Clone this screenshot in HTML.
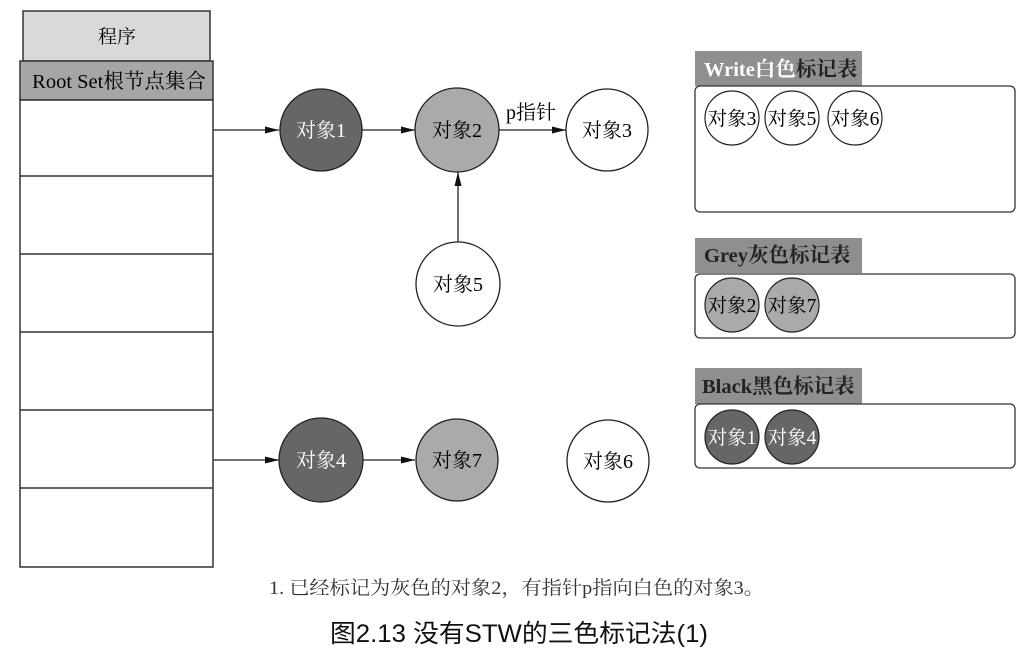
<!DOCTYPE html>
<html><head><meta charset="utf-8"><style>
html,body{margin:0;padding:0;background:#fff;width:1036px;height:657px;overflow:hidden}
svg text{font-family:"Liberation Serif","Noto Serif CJK SC",serif}
</style></head><body>
<svg width="1036" height="657" viewBox="0 0 1036 657" xmlns="http://www.w3.org/2000/svg">
<defs><marker id="a" markerWidth="14" markerHeight="8" refX="14" refY="4" orient="auto" markerUnits="userSpaceOnUse"><path d="M0,0.5 L14,4 L0,7.5 Z" fill="#111"/></marker></defs>
<g stroke="#333" stroke-width="1.5">
<rect x="23" y="11" width="187" height="50" fill="#d9d9d9"/>
<rect x="20" y="61" width="193" height="39" fill="#a6a6a6"/>
<rect x="20" y="100" width="193" height="467" fill="#fff"/>
<line x1="20" y1="176" x2="213" y2="176"/>
<line x1="20" y1="254" x2="213" y2="254"/>
<line x1="20" y1="332" x2="213" y2="332"/>
<line x1="20" y1="410" x2="213" y2="410"/>
<line x1="20" y1="488" x2="213" y2="488"/>
</g>
<text x="117" y="43" font-size="19" text-anchor="middle">程序</text>
<text x="119" y="88" font-size="20.5" text-anchor="middle">Root Set根节点集合</text>
<g stroke="#222" stroke-width="1.3" marker-end="url(#a)">
<line x1="213" y1="130" x2="279" y2="130"/>
<line x1="362" y1="130" x2="415" y2="130"/>
<line x1="499" y1="130" x2="566" y2="130"/>
<line x1="458" y1="243" x2="458" y2="172"/>
<line x1="213" y1="460" x2="279" y2="460"/>
<line x1="362" y1="460" x2="415" y2="460"/>
</g>
<g stroke="#222" stroke-width="1.3">
<circle cx="321" cy="130" r="41" fill="#666"/>
<circle cx="457" cy="130" r="42" fill="#aaa"/>
<circle cx="607" cy="130" r="41" fill="#fff"/>
<circle cx="458" cy="284" r="42" fill="#fff"/>
<circle cx="321" cy="460" r="42" fill="#666"/>
<circle cx="457" cy="460" r="41" fill="#aaa"/>
<circle cx="608" cy="461" r="41" fill="#fff"/>
</g>
<g font-size="20" text-anchor="middle">
<text x="321" y="137" fill="#fff">对象1</text>
<text x="457" y="137">对象2</text>
<text x="607" y="137">对象3</text>
<text x="458" y="291">对象5</text>
<text x="321" y="467" fill="#fff">对象4</text>
<text x="457" y="467">对象7</text>
<text x="608" y="468">对象6</text>
<text x="531" y="119">p指针</text>
</g>
<g fill="#8f8f8f"><rect x="695" y="51" width="167" height="35"/><rect x="695" y="238" width="167" height="35"/><rect x="695" y="368" width="167" height="36"/></g>
<g font-size="20.5" font-weight="bold"><text x="704" y="76" fill="#fff">Write白色<tspan fill="#222">标记表</tspan></text>
<text x="704" y="262" fill="#222">Grey灰色标记表</text>
<text x="702" y="393" fill="#222">Black黑色标记表</text></g>
<g stroke="#333" stroke-width="1.3" fill="#fff">
<rect x="695" y="86" width="320" height="126" rx="5"/>
<rect x="695" y="274" width="320" height="64" rx="5"/>
<rect x="695" y="404" width="320" height="64" rx="5"/>
</g>
<g stroke="#222" stroke-width="1.2">
<circle cx="732" cy="118" r="27" fill="#fff"/>
<circle cx="792" cy="118" r="27" fill="#fff"/>
<circle cx="855" cy="118" r="27" fill="#fff"/>
<circle cx="732" cy="305" r="27" fill="#aaa"/>
<circle cx="792" cy="305" r="27" fill="#aaa"/>
<circle cx="732" cy="437" r="27" fill="#666"/>
<circle cx="792" cy="437" r="27" fill="#666"/>
</g>
<g font-size="19.5" text-anchor="middle">
<text x="732" y="125">对象3</text><text x="792" y="125">对象5</text><text x="855" y="125">对象6</text>
<text x="732" y="312">对象2</text><text x="792" y="312">对象7</text>
<text x="732" y="444" fill="#fff">对象1</text><text x="792" y="444" fill="#fff">对象4</text>
</g>
<text x="269" y="594" font-size="19" fill="#333" textLength="495" lengthAdjust="spacingAndGlyphs">1. 已经标记为灰色的对象2，有指针p指向白色的对象3。</text>
<text x="330" y="642" font-size="25" fill="#111" textLength="378" lengthAdjust="spacingAndGlyphs" style="font-family:'Liberation Sans','Noto Sans CJK SC',sans-serif">图2.13 没有STW的三色标记法(1)</text>
</svg>
</body></html>
